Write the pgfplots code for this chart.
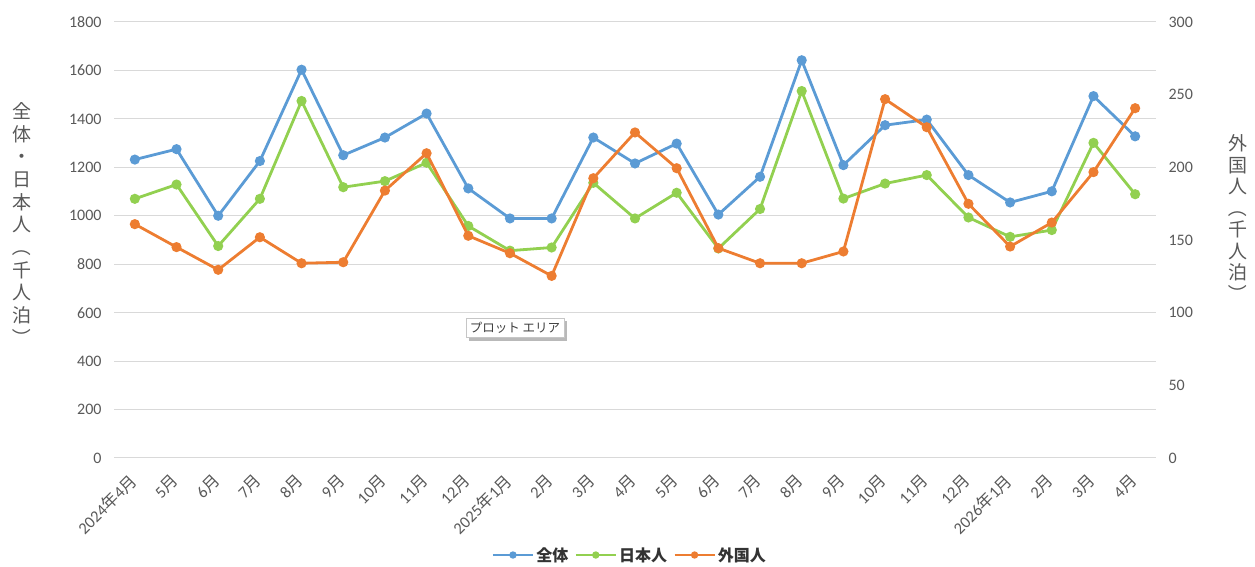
\documentclass[border=0pt]{standalone}
\usepackage{graphicx}
\usepackage{pgfplots}
\usepackage{pgfplotstable}
\pgfplotsset{compat=1.18}
\usepackage{fontspec}
\setmainfont{Carlito}
\newfontfamily\jp{Noto Sans CJK JP}
\usetikzlibrary{shadows}
\definecolor{cBlue}{HTML}{5B9BD5}
\definecolor{cGreen}{HTML}{92D050}
\definecolor{cOrange}{HTML}{ED7D31}
\definecolor{cGrid}{HTML}{D9D9D9}
\definecolor{cText}{HTML}{595959}
\newcommand\M{{\jp 月}}
\newcommand\Y{{\jp 年}}
\newcommand\LP{\rotatebox[origin=c]{-90}{（}}
\newcommand\RP{\rotatebox[origin=c]{-90}{）}}

\pgfplotstableread{
x total jp
0 1232 1070
1 1275 1129
2 1000 875
3 1226 1070
4 1603 1474
5 1250 1118
6 1323 1143
7 1422 1219
8 1113 958
9 989 856
10 989 869
11 1323 1136
12 1216 989
13 1298 1095
14 1005 865
15 1161 1028
16 1642 1515
17 1209 1071
18 1374 1133
19 1397 1168
20 1168 993
21 1055 913
22 1101 941
23 1494 1301
24 1328 1089
}\maintable

\pgfplotstableread{
x foreign
0 160.9
1 145.1
2 129.5
3 151.9
4 134.0
5 134.7
6 184.0
7 209.7
8 152.9
9 140.9
10 125.3
11 192.5
12 224.0
13 199.4
14 144.4
15 134.0
16 134.0
17 142.1
18 246.9
19 227.6
20 174.9
21 145.5
22 162.0
23 196.7
24 240.7
}\foreigntable

\pgfplotsset{
  base/.style={
    at={(114pt,109pt)}, anchor=south west,
    scale only axis, width=1042pt, height=436pt,
    xmin=-0.5, xmax=24.5,
    axis line style={draw=none},
    major tick length=0pt,
    tick label style={font=\fontsize{16}{18}\selectfont, color=cText},
    /pgf/number format/assume math mode=true,
    /pgf/number format/1000 sep={},
    clip=false,
  },
  ser/.style={color=#1, line width=2.8pt, mark=*, mark size=3.6pt,
    mark options={solid, fill=#1, draw=#1}},
}

\begin{document}
\begin{tikzpicture}
\useasboundingbox (0pt,0pt) rectangle (1255pt,567pt);
\begin{axis}[base,
  ymin=0, ymax=1800, ytick={0,200,...,1800},
  ymajorgrids, grid style={cGrid, line width=1pt},
  yticklabel style={xshift=-9pt},
  xtick={0,...,24},
  xticklabels={2024\Y4\M, 5\M, 6\M, 7\M, 8\M, 9\M, 10\M, 11\M, 12\M,
    2025\Y1\M, 2\M, 3\M, 4\M, 5\M, 6\M, 7\M, 8\M, 9\M, 10\M, 11\M, 12\M,
    2026\Y1\M, 2\M, 3\M, 4\M},
  xticklabel style={rotate=45, anchor=east, xshift=-14pt, yshift=-13pt,
    font=\fontsize{16.5}{18}\selectfont, inner sep=1pt},
]
\addplot[ser=cBlue] table[x=x, y=total]{\maintable};
\addplot[ser=cGreen] table[x=x, y=jp]{\maintable};
\end{axis}
\begin{axis}[base,
  ymin=0, ymax=300, ytick={0,50,...,300},
  axis y line*=right, hide x axis,
  yticklabel style={xshift=9pt},
  legend columns=3,
  legend style={at={(0.495,-0.2225)}, anchor=center, draw=none, fill=none,
    font=\jp\bfseries\fontsize{16}{18}\selectfont, text=black!80,
    /tikz/every even column/.append style={column sep=4pt}},
  legend image code/.code={\draw[mark repeat=2, mark phase=2, #1, line width=2.8pt, mark size=2.2pt]
     plot coordinates {(0pt,0pt) (20pt,0pt) (40pt,0pt)};},
]
\addlegendimage{ser=cBlue}
\addlegendentry{全体}
\addlegendimage{ser=cGreen}
\addlegendentry{日本人}
\addplot[ser=cOrange] table[x=x, y=foreign]{\foreigntable};
\addlegendentry{外国人}
\end{axis}
\node[align=center, text=cText, font=\jp\fontsize{19}{22.7}\selectfont] at (22pt,342pt)
  {全\\体\\・\\日\\本\\人\\\LP\\千\\人\\泊\\\RP};
\node[align=center, text=cText, font=\jp\fontsize{19}{21.5}\selectfont] at (1238pt,348pt)
  {外\\国\\人\\\LP\\千\\人\\泊\\\RP};
\node[draw=gray!45, fill=white, inner sep=4pt, text=black!75,
  drop shadow={shadow xshift=3pt, shadow yshift=-3pt, opacity=0.55},
  font=\jp\fontsize{12.5}{14}\selectfont] at (515pt,239pt) {プロット エリア};
\end{tikzpicture}
\end{document}
